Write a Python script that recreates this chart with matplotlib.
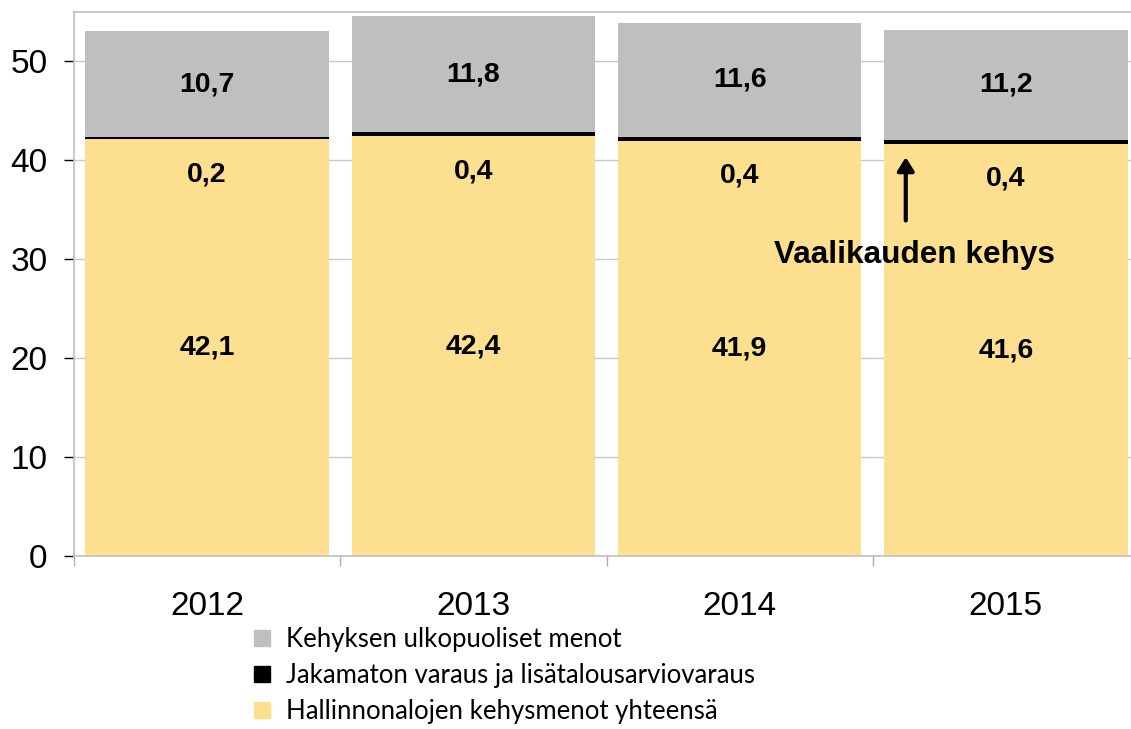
import numpy as np
import matplotlib
matplotlib.use("Agg")
import matplotlib.pyplot as plt
from matplotlib.lines import Line2D
from matplotlib import font_manager

years = ["2012", "2013", "2014", "2015"]
hallinnonalat = [42.1, 42.4, 41.9, 41.6]
varaus = [0.2, 0.4, 0.4, 0.4]
ulkopuoliset = [10.7, 11.8, 11.6, 11.2]

series_names = [
    "Kehyksen ulkopuoliset menot",
    "Jakamaton varaus ja lisätalousarviovaraus",
    "Hallinnonalojen kehysmenot yhteensä",
]

C_GRAY = "#bfbfc1"
C_BLACK = "#000000"
C_YELLOW = "#fde08f"
C_GRID = "#c8c8c8"

names = {f.name for f in font_manager.fontManager.ttflist}
narrow = "Liberation Sans Narrow" if "Liberation Sans Narrow" in names else "Liberation Sans"

plt.rcParams["font.family"] = ["Liberation Sans", "DejaVu Sans"]

fig = plt.figure(figsize=(11.31, 7.29), dpi=100)
ax = fig.add_axes([74 / 1131, 1 - 556 / 729, 1065 / 1131, 544.3 / 729])

x = np.arange(len(years))
w = 0.914
yel = np.array(hallinnonalat)
blk = np.array(varaus)
gry = np.array(ulkopuoliset)

ax.bar(x, yel, w, color=C_YELLOW, zorder=2)
ax.bar(x, blk, w, bottom=yel, color=C_BLACK, zorder=2)
ax.bar(x, gry, w, bottom=yel + blk, color=C_GRAY, zorder=2)

lab_kw = dict(ha="center", va="center", fontsize=20.5, fontweight="bold",
              family=[narrow, "DejaVu Sans"], zorder=3)
for i in range(len(years)):
    ax.text(x[i], yel[i] / 2, f"{yel[i]:.1f}".replace(".", ","), **lab_kw)
    ax.text(x[i], yel[i] - 3.5, f"{blk[i]:.1f}".replace(".", ","), **lab_kw)
    ax.text(x[i], yel[i] + blk[i] + gry[i] / 2, f"{gry[i]:.1f}".replace(".", ","), **lab_kw)

# vaalikauden kehys -nuoli
ax.annotate("", xy=(2.624, 40.3), xytext=(2.624, 33.9),
            arrowprops=dict(arrowstyle="-|>,head_width=0.5,head_length=0.8",
                            lw=3, color="black", shrinkA=0, shrinkB=0), zorder=4)
ax.text(2.128, 30.4, "Vaalikauden kehys", ha="left", va="center",
        fontsize=22.7, fontweight="bold", family=[narrow, "DejaVu Sans"], zorder=4)

ax.set_xlim(-0.5, 3.5)
ax.set_ylim(0, 55)
ax.set_yticks([0, 10, 20, 30, 40, 50])
ax.yaxis.grid(True, color=C_GRID, lw=1, zorder=0)
ax.set_axisbelow(True)

ax.set_xticks(x)
ax.set_xticklabels(years)
ax.set_xticks(np.arange(-0.5, 4, 1), minor=True)
ax.tick_params(axis="x", which="major", length=0, pad=25, labelsize=24)
ax.tick_params(axis="x", which="minor", length=7, width=1, color="#b0b0b0")
ax.tick_params(axis="y", length=7, width=1, color="black", pad=12, labelsize=24)

for s in ["left", "bottom", "top"]:
    ax.spines[s].set_color("#c0c0c0")
    ax.spines[s].set_linewidth(1.2)
ax.spines["right"].set_visible(False)

handles = [
    Line2D([], [], ls="", marker="s", markersize=11.5, color=C_GRAY),
    Line2D([], [], ls="", marker="s", markersize=11.5, color=C_BLACK),
    Line2D([], [], ls="", marker="s", markersize=11.5, color=C_YELLOW),
]
fig.legend(handles, series_names, loc="upper left", bbox_to_anchor=(229 / 1131, 1 - 604 / 729),
           frameon=False, handlelength=0.8, handletextpad=0.5, labelspacing=0.42,
           prop={"family": ["Lato", "DejaVu Sans"], "size": 18.5})

plt.savefig("out.png", dpi=100)
